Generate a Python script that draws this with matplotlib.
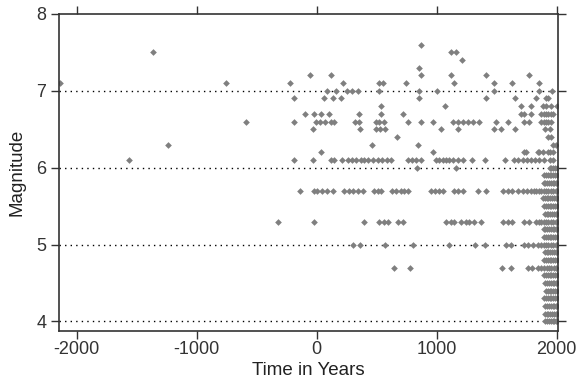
import matplotlib
matplotlib.use("Agg")
import matplotlib.pyplot as plt

# Magnitude levels (0.1 steps) and the years of the events read at each level
mag_levels = [7.6, 7.5, 7.4, 7.3, 7.2, 7.1, 7.0, 6.9, 6.8, 6.7, 6.6, 6.5, 6.4, 6.3,
              6.2, 6.1, 6.0, 5.9, 5.8, 5.7, 5.6, 5.5, 5.4, 5.3, 5.2, 5.1, 5.0,
              4.9, 4.8, 4.7, 4.6, 4.5, 4.4, 4.3, 4.2, 4.1, 4.0]

years_at_level = [
    [870],
    [-1365, 1120, 1160],
    [1210],
    [850],
    [-60, 120, 870, 1120, 1410, 1765],
    [-2140, -755, -225, 220, 520, 555, 745, 1140, 1480, 1625, 1855],
    [85, 160, 250, 295, 340, 520, 855, 1000, 1480, 1855, 1960],
    [-185, 60, 135, 200, 855, 1410, 1655, 1830, 1910, 1925],
    [535, 1065, 1705, 1785, 1885, 1910, 1950, 2000],
    [-95, -20, 35, 105, 355, 535, 720, 1700, 1730, 1785, 1870, 1890, 1910,
     1930, 1950, 1965],
    [-585, -185, -5, 30, 70, 115, 145, 315, 355, 490, 520, 560, 760, 870, 965,
     1135, 1175, 1215, 1260, 1300, 1355, 1495, 1590, 1730, 1770, 1870, 1890,
     1910, 1930, 1955],
    [-35, 360, 490, 530, 570, 1035, 1180, 1480, 1535, 1655, 1900, 1940],
    [670, 1925, 1950],
    [-1240, 460, 845, 1965, 1995],
    [35, 965, 1730, 1745, 1840, 1855, 1885, 1925, 1940, 1965],
    [-1560, -190, -35, 120, 140, 210, 260, 295, 325, 365, 395, 430, 465, 510,
     545, 585, 620, 760, 795, 830, 870, 995, 1020, 1050, 1080, 1105, 1135,
     1175, 1215, 1290, 1405, 1570, 1640, 1675, 1715, 1750, 1785, 1820, 1855,
     1895, 1940, 1965],
    [835, 1160, 1940, 1955, 1970, 1985, 2000],
    [1895, 1910, 1925, 1940, 1955, 1970, 1985, 2000],
    [1890, 1905, 1920, 1935, 1950, 1965, 1980, 1995, 2003],
    [-140, -25, 5, 45, 85, 135, 230, 265, 300, 340, 385, 475, 510, 535, 630,
     660, 700, 730, 760, 955, 985, 1020, 1050, 1140, 1175, 1220, 1340, 1410,
     1550, 1590, 1630, 1675, 1715, 1750, 1785, 1810, 1830, 1850, 1870, 1890,
     1910, 1930, 1950, 1970, 1990, 2003],
    [1885, 1900, 1915, 1930, 1945, 1960, 1975, 1990, 2003],
    [1895, 1910, 1925, 1940, 1955, 1970, 1985, 2000],
    [1900, 1915, 1930, 1945, 1960, 1975, 1990, 2003],
    [-325, -25, 390, 520, 560, 590, 675, 715, 1080, 1115, 1145, 1205, 1240,
     1270, 1310, 1365, 1550, 1590, 1630, 1730, 1770, 1830, 1850, 1870, 1890,
     1910, 1930, 1950, 1970, 1990, 2003],
    [1890, 1905, 1920, 1935, 1950, 1965, 1980, 1995, 2003],
    [1895, 1910, 1925, 1940, 1955, 1970, 1985, 2000],
    [300, 360, 565, 800, 1105, 1320, 1405, 1580, 1615, 1730, 1760, 1800,
     1840, 1870, 1890, 1910, 1930, 1950, 1970, 1990, 2003],
    [1900, 1915, 1930, 1945, 1960, 1975, 1990, 2003],
    [1895, 1910, 1925, 1940, 1955, 1970, 1985, 2000],
    [645, 780, 1540, 1620, 1760, 1790, 1840, 1870, 1895, 1915, 1935, 1955,
     1975, 1995],
    [1895, 1910, 1925, 1940, 1955, 1970, 1985, 2000],
    [1905, 1920, 1935, 1950, 1965, 1980, 1995, 2003],
    [1910, 1925, 1940, 1955, 1970, 1985, 2000],
    [1895, 1910, 1925, 1940, 1955, 1970, 1985, 2000],
    [1905, 1920, 1935, 1950, 1965, 1980, 1995, 2003],
    [1900, 1915, 1930, 1945, 1960, 1975, 1990, 2003],
    [1905, 1920, 1935, 1950, 1965, 1980, 1995, 2003],
]

x_ticks = [-2000, -1000, 0, 1000, 2000]
y_ticks = [4, 5, 6, 7, 8]

years = []
mags = []
for m, ys in zip(mag_levels, years_at_level):
    years += ys
    mags += [m] * len(ys)

plt.rcParams["font.family"] = ["Liberation Sans", "DejaVu Sans"]
plt.rcParams["axes.unicode_minus"] = False

fig = plt.figure(figsize=(5.78, 3.85), dpi=100)
ax = fig.add_axes([0.102, 0.141, 0.863, 0.823])

for g in [4, 5, 6, 7]:
    ax.axhline(g, color="black", linestyle=(0, (1, 3)), linewidth=1.0, zorder=1)

ax.plot(years, mags, linestyle="none", marker="D", markersize=3.4,
        markeredgewidth=0, color="#7f7f7f", zorder=2)

ax.set_xlim(-2147, 2008)
ax.set_ylim(3.88, 8.0)
ax.set_xticks(x_ticks)
ax.set_yticks(y_ticks)
ax.tick_params(direction="out", length=5.5, width=1, colors="#333333",
               labelsize=13, top=True, right=True)
ax.tick_params(axis="x", pad=2)
for s in ax.spines.values():
    s.set_color("#333333")
    s.set_linewidth(1.2)

ax.set_xlabel("Time in Years", fontsize=13.5, color="#222222", labelpad=3)
ax.set_ylabel("Magnitude", fontsize=13.5, color="#222222", labelpad=8)

fig.savefig("out.png", dpi=100)
